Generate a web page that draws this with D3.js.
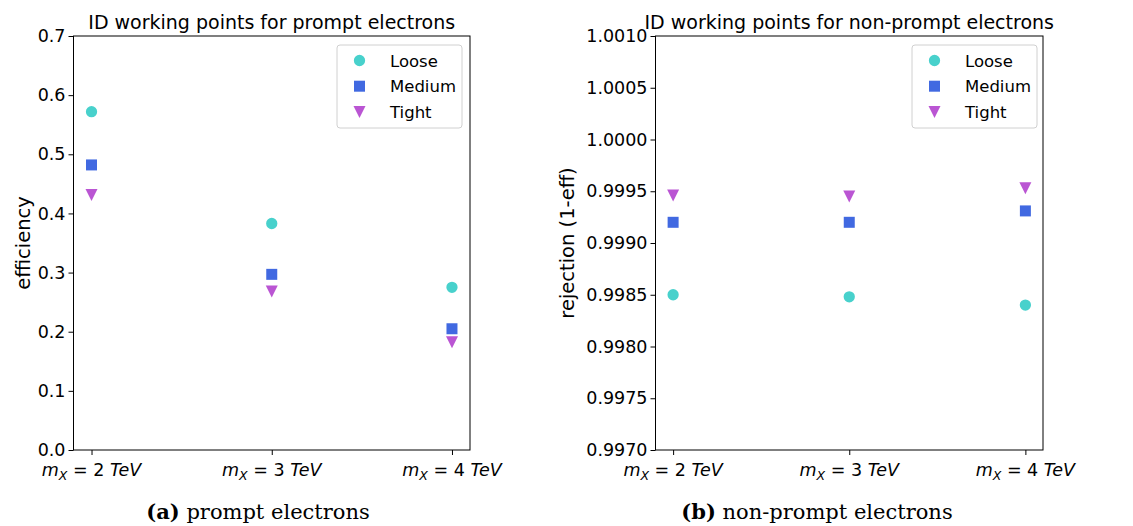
<!DOCTYPE html>
<html>
<head>
<meta charset="utf-8">
<script src="https://cdn.jsdelivr.net/npm/d3@7"></script>
<style>
  html, body { margin: 0; padding: 0; background: #fff; }
  svg { display: block; }
  text { font-family: "DejaVu Sans", sans-serif; fill: #000; }
</style>
</head>
<body>
<svg id="chart" width="1133" height="526"></svg>
<script>
// Mass points (TeV)
const masses = [2, 3, 4];
const workingPoints = ["Loose", "Medium", "Tight"];

// Prompt electrons: efficiency
const promptLoose  = [0.572, 0.383, 0.275];
const promptMedium = [0.482, 0.297, 0.205];
const promptTight  = [0.431, 0.268, 0.182];

// Non-prompt electrons: rejection (1-eff)
const nonPromptLoose  = [0.99850, 0.99848, 0.99840];
const nonPromptMedium = [0.99920, 0.99920, 0.99931];
const nonPromptTight  = [0.99946, 0.99945, 0.99953];

const promptTicks = [0.0, 0.1, 0.2, 0.3, 0.4, 0.5, 0.6, 0.7];
const nonPromptTicks = [0.9970, 0.9975, 0.9980, 0.9985, 0.9990, 0.9995, 1.0000, 1.0005, 1.0010];

const colors = { Loose: "#48d1cc", Medium: "#4169e1", Tight: "#ba55d3" };
const shapes = { Loose: d3.symbolCircle, Medium: d3.symbolSquare, Tight: "tri" };

const svg = d3.select("#chart");

function marker(g, wp, x, y) {
  if (shapes[wp] === "tri") {
    const s = 6;
    g.append("path")
      .attr("d", `M${x - s},${y - s}L${x + s},${y - s}L${x},${y + s}Z`)
      .attr("fill", colors[wp]);
  } else {
    const size = wp === "Loose" ? 100 : 121;
    g.append("path")
      .attr("d", d3.symbol().type(shapes[wp]).size(size)())
      .attr("transform", `translate(${x},${y})`)
      .attr("fill", colors[wp]);
  }
}

function panel(opts) {
  const { left, right, top, bottom, yDomain, yTicks, yFmt, series, title, ylabel, ylabelX, caption, captionLabel, captionX, legendX } = opts;
  const g = svg.append("g");

  const x = d3.scaleLinear()
    .domain([masses[0] - 0.1, masses[masses.length - 1] + 0.1])
    .range([left, right]);
  const y = d3.scaleLinear().domain(yDomain).range([bottom, top]);

  // Axes
  const xAxis = d3.axisBottom(x).tickValues(masses).tickSize(5).tickFormat(() => "");
  const yAxis = d3.axisLeft(y).tickValues(yTicks).tickSize(5).tickFormat(yFmt);

  const gx = g.append("g").attr("transform", `translate(0,${bottom})`).call(xAxis);
  const gy = g.append("g").attr("transform", `translate(${left},0)`).call(yAxis);
  [gx, gy].forEach(a => {
    a.select(".domain").remove();
    a.selectAll(".tick line").attr("stroke", "#000").attr("stroke-width", 1);
  });
  gy.selectAll(".tick text")
    .attr("x", -8)
    .style("font-family", "DejaVu Sans, sans-serif")
    .style("font-size", "17.5px")
    .attr("fill", "#000");

  // x tick labels: m_X = N TeV
  masses.forEach(m => {
    const t = g.append("text")
      .attr("x", x(m))
      .attr("y", bottom + 26)
      .attr("text-anchor", "middle")
      .style("font-size", "17.5px");
    t.append("tspan").attr("font-style", "italic").text("m");
    t.append("tspan").attr("font-style", "italic").attr("font-size", "12.5px").attr("dy", 4).text("X");
    t.append("tspan").attr("dy", -4).text(" = " + m + " ");
    t.append("tspan").attr("font-style", "italic").text("TeV");
  });

  // Frame
  g.append("rect")
    .attr("x", left).attr("y", top)
    .attr("width", right - left).attr("height", bottom - top)
    .attr("fill", "none").attr("stroke", "#000").attr("stroke-width", 1);

  // Markers
  workingPoints.forEach(wp => {
    series[wp].forEach((v, i) => marker(g, wp, x(masses[i]), y(v)));
  });

  // Legend
  const lg = g.append("g");
  lg.append("rect")
    .attr("x", legendX).attr("y", 45)
    .attr("width", 125).attr("height", 83)
    .attr("rx", 3)
    .attr("fill", "#fff").attr("fill-opacity", 0.8)
    .attr("stroke", "#d0d0d0").attr("stroke-width", 1);
  workingPoints.forEach((wp, i) => {
    const cy = 60.5 + i * 25.7;
    marker(lg, wp, legendX + 22.5, cy);
    lg.append("text")
      .attr("x", legendX + 53)
      .attr("y", cy + 6)
      .style("font-size", "16.5px")
      .text(wp);
  });

  // Title
  g.append("text")
    .attr("x", (left + right) / 2)
    .attr("y", 29)
    .attr("text-anchor", "middle")
    .style("font-size", "19px")
    .text(title);

  // Y label
  g.append("text")
    .attr("transform", `translate(${ylabelX},${(top + bottom) / 2}) rotate(-90)`)
    .attr("text-anchor", "middle")
    .style("font-size", "19.5px")
    .text(ylabel);

  // Caption
  const c = g.append("text")
    .attr("x", captionX)
    .attr("y", 519)
    .attr("text-anchor", "middle")
    .style("font-family", "DejaVu Serif, serif")
    .style("font-size", "21px");
  c.append("tspan").attr("font-weight", "bold").style("font-family", "DejaVu Serif, serif").text("(" + captionLabel + ")");
  c.append("tspan").style("font-family", "DejaVu Serif, serif").text(" " + caption);
}

panel({
  left: 73.5, right: 470, top: 36, bottom: 450,
  yDomain: [0, 0.7], yTicks: promptTicks, yFmt: d3.format(".1f"),
  series: { Loose: promptLoose, Medium: promptMedium, Tight: promptTight },
  title: "ID working points for prompt electrons",
  ylabel: "efficiency", ylabelX: 30,
  caption: "prompt electrons", captionLabel: "a", captionX: 258,
  legendX: 337
});

panel({
  left: 655.5, right: 1043, top: 36, bottom: 450,
  yDomain: [0.997, 1.001], yTicks: nonPromptTicks, yFmt: d3.format(".4f"),
  series: { Loose: nonPromptLoose, Medium: nonPromptMedium, Tight: nonPromptTight },
  title: "ID working points for non-prompt electrons",
  ylabel: "rejection (1-eff)", ylabelX: 574,
  caption: "non-prompt electrons", captionLabel: "b", captionX: 817,
  legendX: 912
});
</script>
</body>
</html>
